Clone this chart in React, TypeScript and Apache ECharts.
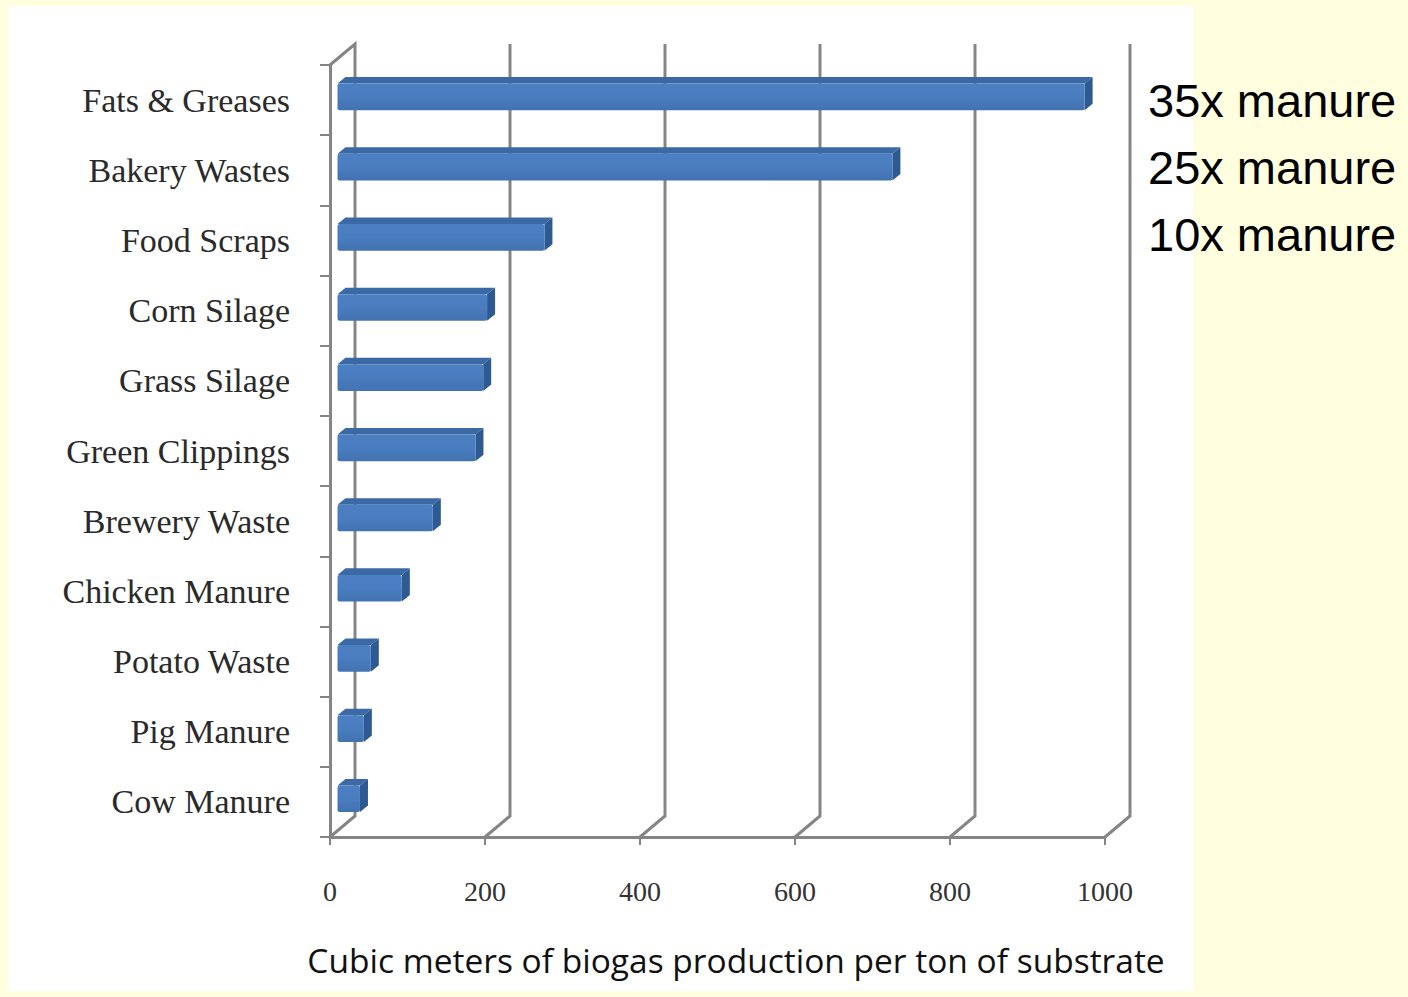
import React, { useEffect, useRef } from "react";
import * as echarts from "echarts";

const categories = [
  "Fats & Greases",
  "Bakery Wastes",
  "Food Scraps",
  "Corn Silage",
  "Grass Silage",
  "Green Clippings",
  "Brewery Waste",
  "Chicken Manure",
  "Potato Waste",
  "Pig Manure",
  "Cow Manure",
];
const biogasValues = [964, 716, 267, 193, 188, 178, 123, 83, 43, 34, 29];
const xTicks = [0, 200, 400, 600, 800, 1000];
const sideNotes = ["35x manure", "25x manure", "10x manure"];
const axisTitle = "Cubic meters of biogas production per ton of substrate";

const DEPTH_X = 25;
const DEPTH_Y = -21;
const GRID_COLOR = "#858585";

export default function App() {
  const ref = useRef<HTMLDivElement>(null);
  useEffect(() => {
    if (!ref.current) return;
    const chart = echarts.init(ref.current, undefined, { renderer: "svg" });
    const option: any = {
      animation: false,
      backgroundColor: "#FFFFE0",
      grid: { left: 330, right: 303, top: 65, bottom: 160, containLabel: false },
      xAxis: {
        type: "value",
        min: 0,
        max: 1000,
        interval: 200,
        axisLine: { show: true, lineStyle: { color: GRID_COLOR, width: 3 } },
        axisTick: { show: true, length: 8, lineStyle: { color: GRID_COLOR, width: 2 } },
        splitLine: { show: false },
        axisLabel: {
          margin: 40,
          fontFamily: "Liberation Serif",
          fontSize: 28,
          color: "#333",
          formatter: (v: number) => String(v),
        },
      },
      yAxis: {
        type: "category",
        data: categories,
        inverse: true,
        axisLine: { show: true, lineStyle: { color: GRID_COLOR, width: 3 } },
        axisTick: { show: true, length: 10, lineStyle: { color: GRID_COLOR, width: 2 } },
        splitLine: { show: false },
        axisLabel: {
          margin: 40,
          fontFamily: "Liberation Serif",
          fontSize: 34,
          color: "#2a2a2a",
        },
      },
      graphic: [
        {
          type: "rect",
          z: -10,
          silent: true,
          shape: { x: 8, y: 6, width: 1185, height: 985 },
          style: { fill: "#FFFFFF" },
        },
        {
          type: "text",
          x: 736,
          y: 960,
          style: {
            text: axisTitle,
            fontFamily: "Open Sans",
            fontSize: 33.5,
            fill: "#111",
            align: "center",
            verticalAlign: "middle",
          },
        },
        ...sideNotes.map((t, i) => ({
          type: "text",
          x: 1148,
          y: 100 + i * 67,
          style: {
            text: t,
            fontFamily: "Liberation Sans",
            fontSize: 47,
            fill: "#000",
            align: "left",
            verticalAlign: "middle",
          },
        })),
      ],
      series: [
        {
          type: "custom",
          name: "walls",
          silent: true,
          z: 1,
          data: xTicks.map((v) => [v, 0]),
          renderItem: (params: any, api: any) => {
            const cs = params.coordSys;
            const v = api.value(0);
            const x = api.coord([v, 0])[0];
            const top = cs.y;
            const bottom = cs.y + cs.height;
            const pts: number[][] = [];
            if (params.dataIndex === 0) pts.push([x, top]);
            pts.push([x + DEPTH_X, top + DEPTH_Y]);
            pts.push([x + DEPTH_X, bottom + DEPTH_Y]);
            pts.push([x, bottom]);
            return {
              type: "polyline",
              shape: { points: pts },
              style: { stroke: GRID_COLOR, lineWidth: 3, fill: null },
            };
          },
        },
        {
          type: "custom",
          name: "biogas",
          z: 3,
          data: biogasValues.map((v, i) => [v, i]),
          renderItem: (params: any, api: any) => {
            const v = api.value(0);
            const idx = api.value(1);
            const p0 = api.coord([0, idx]);
            const p1 = api.coord([v, idx]);
            const band = api.size([0, 1])[1];
            const h = band * 0.38;
            const fx = DEPTH_X * 0.3;
            const fy = DEPTH_Y * 0.15;
            const bx = DEPTH_X * 0.62;
            const by = DEPTH_Y * 0.46;
            const x0 = p0[0] + fx;
            const x1 = p1[0] + fx;
            const yTop = p0[1] + fy - h / 2;
            const yBot = p0[1] + fy + h / 2;
            const ddx = bx - fx;
            const ddy = by - fy;
            return {
              type: "group",
              children: [
                {
                  type: "polygon",
                  shape: {
                    points: [
                      [x0, yTop],
                      [x1, yTop],
                      [x1 + ddx, yTop + ddy],
                      [x0 + ddx, yTop + ddy],
                    ],
                  },
                  style: { fill: "#3A69A6" },
                },
                {
                  type: "polygon",
                  shape: {
                    points: [
                      [x1, yTop],
                      [x1 + ddx, yTop + ddy],
                      [x1 + ddx, yBot + ddy],
                      [x1, yBot],
                    ],
                  },
                  style: { fill: "#2D5A92" },
                },
                {
                  type: "rect",
                  shape: { x: x0, y: yTop, width: x1 - x0, height: yBot - yTop, r: 2 },
                  style: {
                    fill: new echarts.graphic.LinearGradient(0, 0, 0, 1, [
                      { offset: 0, color: "#4D80C2" },
                      { offset: 0.5, color: "#4A7DBF" },
                      { offset: 1, color: "#4272B0" },
                    ]),
                  },
                },
              ],
            };
          },
        },
      ],
    };
    chart.setOption(option);
    return () => chart.dispose();
  }, []);
  return (
    <div
      ref={ref}
      style={{ position: "fixed", left: 0, top: 0, width: 1408, height: 997 }}
    />
  );
}
